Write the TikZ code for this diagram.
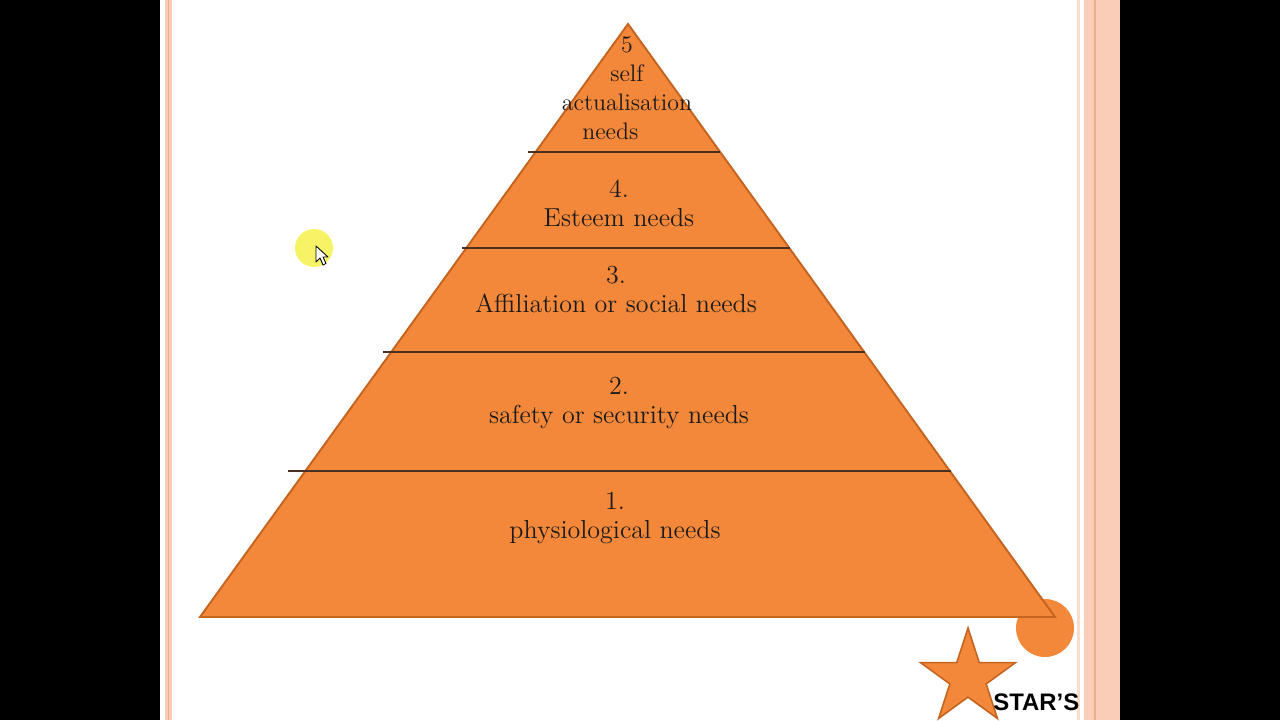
\documentclass[tikz,border=0pt]{standalone}
\usepackage{fontspec}
\newfontfamily\starfont{Liberation Sans}
\newcommand{\pyrfont}{\fontsize{14.8}{16.5}\selectfont\addfontfeatures{LetterSpace=5}}
\newcommand{\topfont}{\fontsize{13.6}{16.5}\selectfont\addfontfeatures{LetterSpace=4}}
\usetikzlibrary{shapes.geometric}
\definecolor{ink}{HTML}{1A1A1A}
\definecolor{pyr}{HTML}{F4883A}
\definecolor{pyredge}{HTML}{C4641F}
\definecolor{rule}{HTML}{4A3020}
\definecolor{stripe}{HTML}{F9CDB8}
\definecolor{stripe2}{HTML}{EDAC8C}
\definecolor{glow}{HTML}{F6F466}
\tikzset{
  layertext/.style={align=center,font=\pyrfont,text=ink,inner sep=0pt},
  divider/.style={draw=rule,line width=0.85pt},
  pyramid/.style={fill=pyr,draw=pyredge,line width=1.1pt,line join=miter},
  starbox/.style={star,star points=5,star point ratio=2.618,fill=pyr,draw=pyredge,line width=0.9pt,minimum size=2cm,inner sep=0pt},
  dotbox/.style={circle,fill=pyr,inner sep=0pt,minimum size=1.16cm}
}
\begin{document}
\begin{tikzpicture}[x=0.02cm,y=-0.02cm]
  \clip (0,0) rectangle (1280,720);
  \fill[black] (0,0) rectangle (1280,720);
  \fill[white] (160,0) rectangle (1120,720);

  % slide border stripes
  \fill[stripe] (165,0) rectangle (172,720);
  \draw[stripe2,line width=0.6pt] (168.5,0) -- (168.5,720);
  \fill[stripe!70] (1077,0) rectangle (1080,720);
  \fill[stripe] (1084,0) rectangle (1120,720);
  \draw[stripe2,line width=0.9pt] (1095,0) -- (1095,720);

  % pyramid
  \node[dotbox] (dot) at (1045,628) {};
  \draw[pyramid] (628,24) -- (1055,617) -- (200,617) -- cycle;
  \draw[divider] (528,152) -- (720,152);
  \draw[divider] (462,248) -- (790,248);
  \draw[divider] (383,352) -- (865,352);
  \draw[divider] (288,471) -- (951,471);

  \node[layertext,font=\topfont] (lvl5) at (627,88) {5\\self\\actualisation\\needs\hspace*{1.4em}};
  \node[layertext] (lvl4) at (619,203) {4.\\Esteem needs};
  \node[layertext] (lvl3) at (616,289) {3.\\Affiliation or social needs};
  \node[layertext] (lvl2) at (619,403) {2.\\safety or security needs};
  \node[layertext] (lvl1) at (615,518) {1.\\physiological needs};

  % logo
  \node[starbox] (star) at (968,678) {};
  \node[anchor=base west,inner sep=0pt,font=\starfont\bfseries\fontsize{13.6}{16}\selectfont] (brand) at (993,710) {STAR’S};

  % pointer
  \fill[glow] (314,248) circle (19);
  \draw[black,fill=white,line width=0.5pt,line join=round]
    (316,246) -- (316,262) -- (320,258) -- (323,265) -- (326,263.5) -- (323,257) -- (328,257) -- cycle;
\end{tikzpicture}
\end{document}
